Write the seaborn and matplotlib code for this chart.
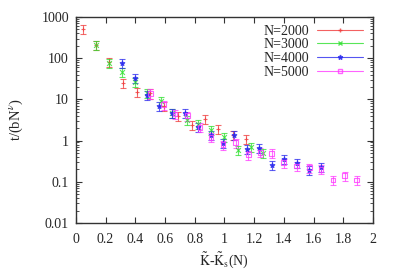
import matplotlib
matplotlib.use("Agg")
import matplotlib.pyplot as plt
from matplotlib.lines import Line2D
from matplotlib.ticker import FixedLocator, LogLocator, NullFormatter
import numpy as np
import pandas as pd
import seaborn as sns

# N=2000
x_2000 = [0.05, 0.135, 0.225, 0.32, 0.41, 0.50, 0.59, 0.69, 0.785, 0.87, 0.96, 1.055, 1.145]
y_2000 = [520, 210, 80, 25, 15.5, 14, 7, 3.9, 2.4, 3.3, 1.9, 1.4, 1.07]
# N=3000
x_3000 = [0.135, 0.225, 0.31, 0.40, 0.48, 0.57, 0.65, 0.745, 0.82, 0.91, 1.0, 1.089, 1.176, 1.26]
y_3000 = [210, 78, 47, 26, 14.5, 9.3, 4.8, 3.1, 2.5, 1.8, 1.2, 0.59, 0.71, 0.51]
# N=4000
x_4000 = [0.314, 0.397, 0.48, 0.56, 0.65, 0.734, 0.82, 0.907, 0.99, 1.066, 1.15, 1.235,
          1.317, 1.40, 1.486, 1.57, 1.65]
y_4000 = [75, 33, 13, 6.8, 4.6, 4.7, 2.1, 1.4, 0.89, 1.4, 0.63, 0.65, 0.25, 0.35, 0.28,
          0.19, 0.23]
# N=5000
x_5000 = [0.50, 0.59, 0.667, 0.75, 0.835, 0.91, 0.99, 1.077, 1.16, 1.24, 1.317, 1.40,
          1.486, 1.57, 1.65, 1.73, 1.81, 1.89]
y_5000 = [14, 7.5, 4.4, 4.0, 2.1, 1.2, 0.8, 0.89, 0.45, 0.52, 0.49, 0.29, 0.24, 0.22,
          0.2, 0.11, 0.14, 0.11]

rel_err = 0.25
series = [
    ("N=2000", x_2000, y_2000, "#f03a3a", "+", "full"),
    ("N=3000", x_3000, y_3000, "#2ee02e", "x", "full"),
    ("N=4000", x_4000, y_4000, "#2a2aee", "*", "full"),
    ("N=5000", x_5000, y_5000, "#ff3cff", "s", "none"),
]

sns.set_style("ticks")
plt.rcParams["font.family"] = ["Liberation Serif", "DejaVu Serif"]
plt.rcParams["mathtext.fontset"] = "stix"

fig = plt.figure(figsize=(3.99, 2.79), dpi=100)
ax = fig.add_axes([0.19, 0.201, 0.745, 0.738])

handles = []
for label, xs, ys, color, marker, fill in series:
    df = pd.DataFrame({"x": xs, "y": ys})
    yerr = df["y"].to_numpy() * rel_err
    ax.errorbar(df["x"], df["y"], yerr=yerr, fmt="none", ecolor=color, elinewidth=0.8,
                capsize=2, capthick=0.8, alpha=0.75, zorder=2)
    sns.scatterplot(data=df, x="x", y="y", ax=ax, marker=marker, s=12,
                    color=color if fill == "full" else "none",
                    edgecolor=color, linewidth=0.8, alpha=0.8, legend=False, zorder=3)
    handles.append(Line2D([0], [0], color=color, lw=0.8, marker=marker, markersize=3.5,
                          fillstyle=fill, alpha=0.8, label=label))

ax.set_yscale("log")
ax.set_xlim(0, 2)
ax.set_ylim(0.01, 1000)
ax.xaxis.set_major_locator(FixedLocator(np.arange(0, 2.01, 0.2)))
ax.set_xticklabels(["0", "0.2", "0.4", "0.6", "0.8", "1", "1.2", "1.4", "1.6", "1.8", "2"])
ax.yaxis.set_major_locator(FixedLocator([0.01, 0.1, 1, 10, 100, 1000]))
ax.set_yticklabels(["0.01", "0.1", "1", "10", "100", "1000"])
ax.yaxis.set_minor_locator(LogLocator(base=10, subs=(2, 3, 4, 5, 6, 7, 8, 9)))
ax.yaxis.set_minor_formatter(NullFormatter())
ax.tick_params(which="both", direction="in", top=True, right=True, labelsize=10,
               color="#333333")
ax.tick_params(axis="x", pad=7)
ax.tick_params(axis="y", pad=5)
ax.tick_params(which="major", length=4, width=0.8)
ax.tick_params(which="minor", length=2, width=0.6)
for sp in ax.spines.values():
    sp.set_color("#333333")
    sp.set_linewidth(1.0)

ax.set_xlabel(r"$\tilde{\mathrm{K}}$-$\tilde{\mathrm{K}}_{\mathrm{s}}$(N)", fontsize=10,
              labelpad=3)
ax.set_ylabel(r"t/(bN$^{\nu}$)", fontsize=10.5, labelpad=12)

ax.legend(handles=handles, loc="upper right", markerfirst=False, frameon=False,
          fontsize=10, handlelength=3.3, handletextpad=0.6, labelspacing=0.05,
          borderaxespad=0.0, bbox_to_anchor=(0.985, 0.99))

fig.savefig("out.png", dpi=100)
